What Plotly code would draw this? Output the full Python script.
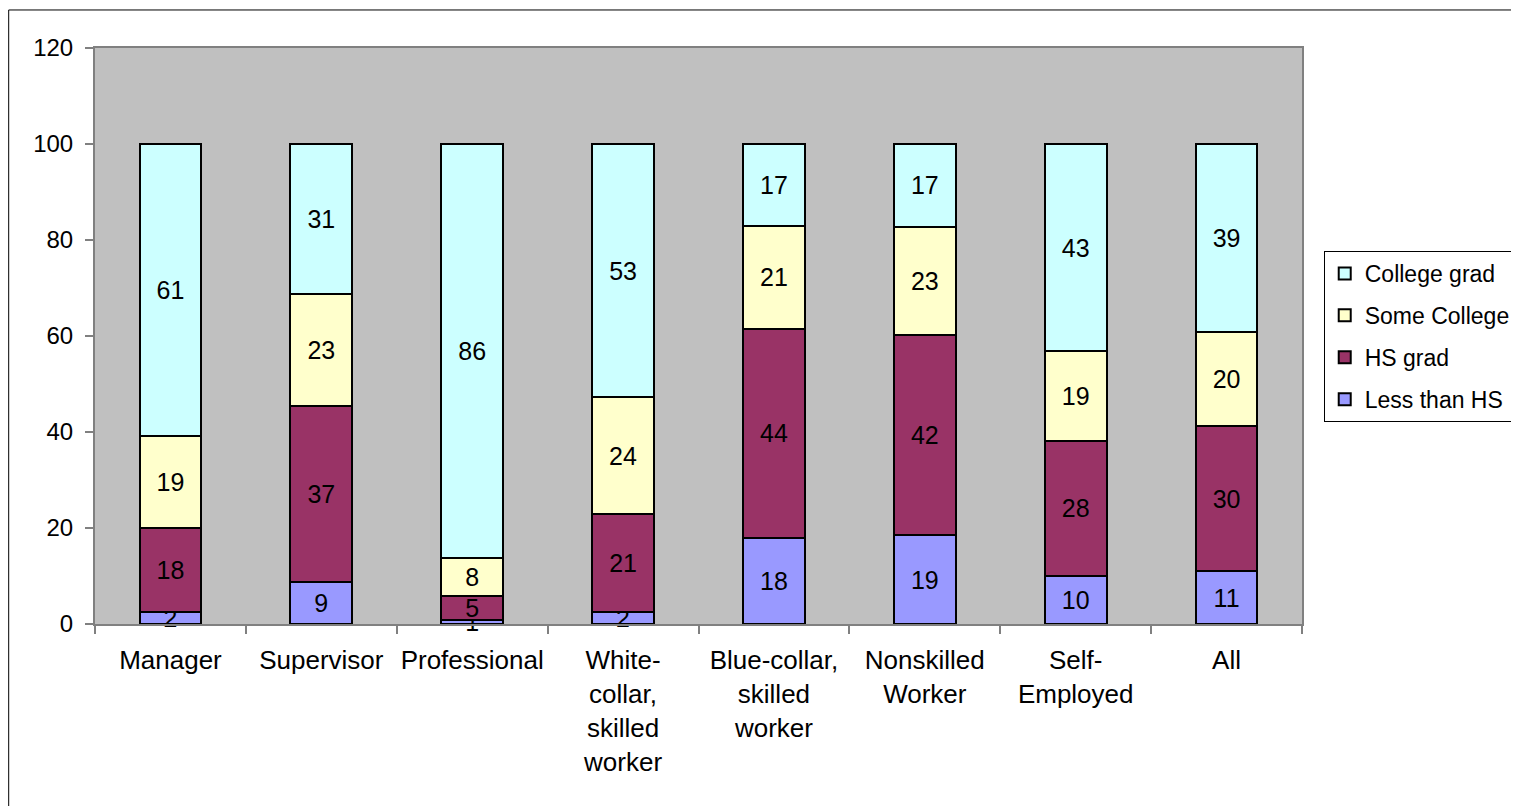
import plotly.graph_objects as go

categories = ["Manager", "Supervisor", "Professional",
              "White-<br>collar,<br>skilled<br>worker",
              "Blue-collar,<br>skilled<br>worker",
              "Nonskilled<br>Worker", "Self-<br>Employed", "All"]

less_than_hs = [2.4, 8.8, 0.8, 2.4, 17.9, 18.5, 10.0, 11.0]
hs_grad = [17.6, 36.6, 5.0, 20.6, 43.6, 41.7, 28.2, 30.2]
some_college = [19.2, 23.4, 8.0, 24.2, 21.4, 22.6, 18.6, 19.6]
college_grad = [60.8, 31.2, 86.2, 52.8, 17.1, 17.2, 43.2, 39.2]

series = [
    ("Less than HS", less_than_hs, "#9999FF"),
    ("HS grad", hs_grad, "#993366"),
    ("Some College", some_college, "#FFFFCC"),
    ("College grad", college_grad, "#CCFFFF"),
]

FONT = "Liberation Sans, Arial, sans-serif"

fig = go.Figure()
for i, (name, vals, color) in enumerate(series):
    fig.add_trace(go.Bar(
        x=categories, y=vals, name=name,
        marker=dict(color=color, line=dict(color="black", width=2)),
        texttemplate="%{y:.0f}", textposition="inside", textangle=0,
        insidetextanchor="middle", constraintext="none",
        textfont=dict(family=FONT, size=25, color="black"),
        legendgroup=f"g{i}", legendrank=10 - i, cliponaxis=False,
    ))

fig.update_layout(
    barmode="stack",
    bargap=0.59,
    width=1519, height=806,
    margin=dict(l=87, r=225, t=40, b=190, autoexpand=False),
    paper_bgcolor="white",
    plot_bgcolor="#C0C0C0",
    font=dict(family=FONT, size=24, color="black"),
    uniformtext=dict(minsize=25, mode="show"),
    showlegend=True,
    legend=dict(
        x=1.018, xanchor="left", y=0.6476, yanchor="top",
        traceorder="grouped", tracegroupgap=9,
        bordercolor="black", borderwidth=1, bgcolor="white",
        font=dict(family=FONT, size=23, color="black"),
        itemwidth=30,
    ),
    xaxis=dict(
        type="category", tickson="boundaries", ticks="outside",
        ticklen=8, tickcolor="#808080", tickwidth=2, tickangle=0,
        showline=True, linecolor="#808080", linewidth=2, mirror=True,
        showgrid=False, tickfont=dict(family=FONT, size=26),
        ticklabelstandoff=12,
    ),
    yaxis=dict(
        range=[0, 120], dtick=20, ticks="outside", ticklen=8,
        tickcolor="#808080", tickwidth=2,
        showline=True, linecolor="#808080", linewidth=2, mirror=True,
        showgrid=False, zeroline=True, zerolinecolor="black", zerolinewidth=1,
        tickfont=dict(family=FONT, size=24), ticklabelstandoff=7,
    ),
    shapes=[dict(type="rect", xref="paper", yref="paper",
                 x0=-0.0715, x1=1.5, y0=-0.6, y1=1.066,
                 line=dict(color="black", width=1), fillcolor="rgba(0,0,0,0)",
                 layer="below")],
)

fig.write_html("out.html")
